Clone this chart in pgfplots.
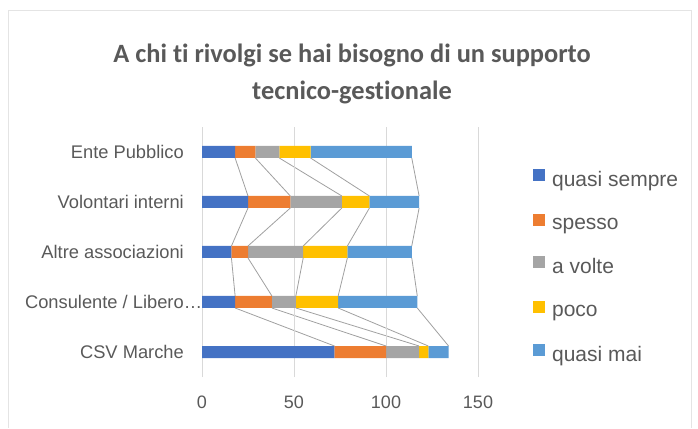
\documentclass[border=0pt]{standalone}
\usepackage{pgfplots}
\pgfplotsset{compat=1.18}
\usepackage{fontspec}
\setmainfont{Liberation Sans}
\newfontfamily\titlefont[Ligatures=NoCommon]{Carlito}
\definecolor{cqs}{HTML}{4472C4}
\definecolor{csp}{HTML}{ED7D31}
\definecolor{cav}{HTML}{A5A5A5}
\definecolor{cpo}{HTML}{FFC000}
\definecolor{cqm}{HTML}{5B9BD5}
\definecolor{txt}{HTML}{595959}
\definecolor{grd}{HTML}{D9D9D9}
\definecolor{sl}{HTML}{A0A0A0}
\begin{document}
\begin{tikzpicture}
\path (0pt,0pt) rectangle (698pt,428pt);
\draw[grd!70,line width=0.8pt] (8pt,0pt) -- (8pt,418pt) -- (691pt,418pt) -- (691pt,0pt);
\node[font=\titlefont\bfseries\fontsize{26.4}{37}\selectfont, text=txt, align=center] at (352pt,354pt) {A chi ti rivolgi se hai bisogno di un supporto\\tecnico-gestionale};
% series lines
\begin{axis}[at={(202pt,51pt)}, anchor=south west, scale only axis, width=276pt, height=250pt,
  xmin=0, xmax=150, ymin=-0.5, ymax=4.5, axis lines=none, unbounded coords=jump]
\addplot[sl, line width=0.8pt, mark=none] coordinates {(18,3.88)(25,3.12) (nan,nan) (25,2.88)(16,2.12) (nan,nan) (16,1.88)(18,1.12) (nan,nan) (18,0.88)(72,0.12)};
\addplot[sl, line width=0.8pt, mark=none] coordinates {(29,3.88)(48,3.12) (nan,nan) (48,2.88)(25,2.12) (nan,nan) (25,1.88)(38,1.12) (nan,nan) (38,0.88)(100,0.12)};
\addplot[sl, line width=0.8pt, mark=none] coordinates {(42,3.88)(76,3.12) (nan,nan) (76,2.88)(55,2.12) (nan,nan) (55,1.88)(51,1.12) (nan,nan) (51,0.88)(118,0.12)};
\addplot[sl, line width=0.8pt, mark=none] coordinates {(59,3.88)(91,3.12) (nan,nan) (91,2.88)(79,2.12) (nan,nan) (79,1.88)(74,1.12) (nan,nan) (74,0.88)(123,0.12)};
\addplot[sl, line width=0.8pt, mark=none] coordinates {(114,3.88)(118,3.12) (nan,nan) (118,2.88)(114,2.12) (nan,nan) (114,1.88)(117,1.12) (nan,nan) (117,0.88)(134,0.12)};
\end{axis}
% bars
\begin{axis}[at={(202pt,51pt)}, anchor=south west, scale only axis, width=276pt, height=250pt,
  xbar stacked, bar width=12pt,
  xmin=0, xmax=150, ymin=-0.5, ymax=4.5,
  axis line style={draw=none}, major tick length=0pt,
  xtick={0,50,100,150}, xmajorgrids, grid style={grd, line width=0.8pt},
  ytick={0,1,2,3,4},
  yticklabels={CSV Marche, Consulente / Libero\rlap{\dots}, Altre associazioni, Volontari interni, Ente Pubblico},
  yticklabel style={anchor=east, inner sep=0pt, xshift=-18pt, font=\fontsize{18.3}{20}\selectfont, text=txt},
  xticklabel style={anchor=north, inner sep=0pt, yshift=-19pt, font=\fontsize{18}{20}\selectfont, text=txt},
  /pgf/number format/assume math mode=true,
  legend cell align=left,
  legend image code/.code={\fill[#1] (0pt,-1.3pt) rectangle (12pt,10.7pt);},
  legend style={draw=none, fill=none, at={(rel axis cs:1.199,0.832)}, anchor=north west,
    font=\fontsize{21}{24}\selectfont, text=txt, row sep=23.5pt, inner sep=0pt,
    nodes={inner sep=2pt},
    /tikz/every odd column/.append style={column sep=5pt}},
  clip=false]
\addplot[fill=cqs, draw=none] coordinates {(72,0)(18,1)(16,2)(25,3)(18,4)};
\addplot[fill=csp, draw=none] coordinates {(28,0)(20,1)(9,2)(23,3)(11,4)};
\addplot[fill=cav, draw=none] coordinates {(18,0)(13,1)(30,2)(28,3)(13,4)};
\addplot[fill=cpo, draw=none] coordinates {(5,0)(23,1)(24,2)(15,3)(17,4)};
\addplot[fill=cqm, draw=none] coordinates {(11,0)(43,1)(35,2)(27,3)(55,4)};
\legend{quasi sempre, spesso, a volte, poco, quasi mai}
\end{axis}
\end{tikzpicture}
\end{document}
